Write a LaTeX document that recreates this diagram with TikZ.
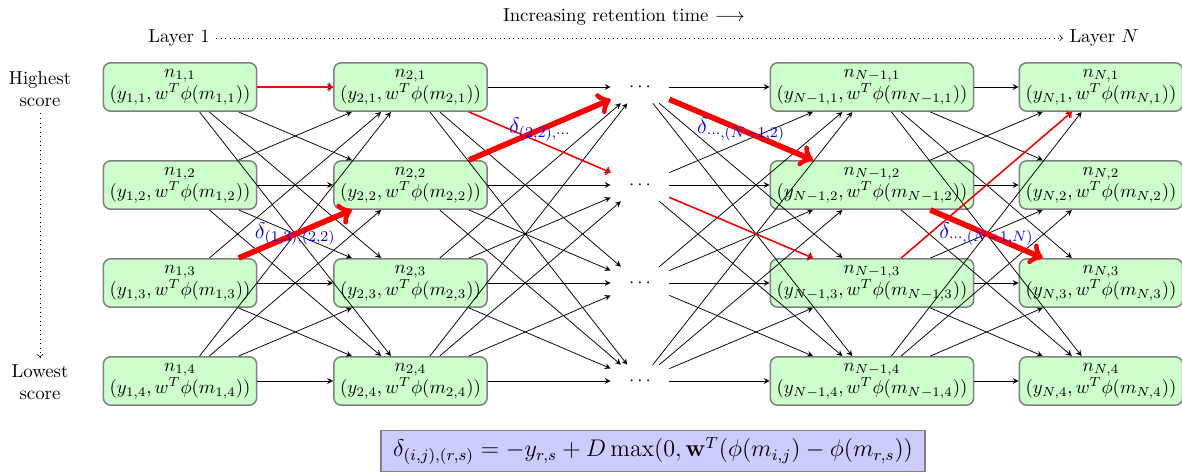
\documentclass[tikz,border=0pt]{standalone}
\usepackage{graphicx}
\usetikzlibrary{arrows}
\begin{document}
\begin{tikzpicture}[x=0.533pt, y=-0.533pt]
\tikzset{
 nd/.style={draw=black!50, thick, fill=green!20, rounded corners=4pt, align=center},
 dt/.style={minimum width=30.9pt, minimum height=17pt, inner sep=0pt},
 e/.style={-stealth},
 rr/.style={->, red, thick},
 RR/.style={->, red, line width=3pt},
 lbl/.style={blue, midway, font=\fontsize{11.5}{14}\selectfont},
 side/.style={align=center},
}
\useasboundingbox (0,0) rectangle (1182,475);
\foreach \j/\yy in {1/87,2/185,3/283,4/381} {
 \node[nd] (a\j) at (180,\yy) {$n_{1,\j}$\\$(y_{1,\j}, w^T\phi(m_{1,\j}))$};
 \node[nd] (b\j) at (410.5,\yy) {$n_{2,\j}$\\$(y_{2,\j}, w^T\phi(m_{2,\j}))$};
 \node[dt] (d\j) at (640,\yy) {$\cdots$};
 \node[nd] (p\j) at (872,\yy) {$n_{N-1,\j}$\\$(y_{N-1,\j}, w^T\phi(m_{N-1,\j}))$};
 \node[nd] (q\j) at (1101,\yy) {$n_{N,\j}$\\$(y_{N,\j}, w^T\phi(m_{N,\j}))$};
}
\foreach \i in {1,...,4} {
 \foreach \j in {1,...,4} {
  \draw[e] (a\i) -- (b\j);
  \draw[e] (b\i) -- (d\j);
  \draw[e] (d\i) -- (p\j);
  \draw[e] (p\i) -- (q\j);
 }
}
\draw[rr] (a1) -- (b1);
\draw[rr] (b1) -- (d2);
\draw[rr] (d2) -- (p3);
\draw[rr] (p3) -- (q1);
\draw[RR] (a3) -- node[lbl] {$\delta_{(1,3),(2,2)}$} (b2);
\draw[RR] (b2) -- node[lbl] {$\delta_{(2,2),\cdots}$} (d1);
\draw[RR] (d1) -- node[lbl] {$\delta_{\cdots,(N-1,2)}$} (p2);
\draw[RR] (p2) -- node[lbl] {$\delta_{\cdots,(N-1,N)}$} (q3);
\node (title) at (624,17) {Increasing retention time $\longrightarrow$};
\node (l1) at (179,38) {Layer 1};
\node (ln) at (1104,38) {Layer $N$};
\draw[->, dotted] (l1) -- (ln);
\node[side] (hi) at (40,89) {Highest\\score};
\node[side] (lo) at (40,382) {Lowest\\score};
\draw[->, dotted] (hi) -- (lo);
\node[draw=black!50, thick, fill=blue!20, font=\large, inner xsep=6.5pt, inner ysep=3.5pt] (f) at (653,451) {\scalebox{1.07}{$\delta_{(i,j),(r,s)} = -y_{r,s} + D\max(0,\mathbf{w}^T(\phi(m_{i,j})-\phi(m_{r,s}))$}};
\end{tikzpicture}
\end{document}
